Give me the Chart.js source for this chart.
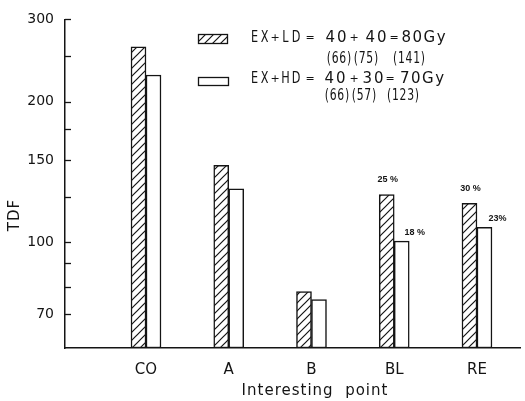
<!DOCTYPE html>
<html><head><meta charset="utf-8">
<script src="https://cdn.jsdelivr.net/npm/chart.js@4"></script>
<style>html,body{margin:0;padding:0;background:#fff}</style>
</head><body>
<canvas id="c" width="525" height="401"></canvas>
<script>
const categories = ['CO', 'A', 'B', 'BL', 'RE'];
const ldValues = [262, 146, 78.3, 126.4, 121];
const hdValues = [228, 130, 75.3, 100.5, 107.6];
const ldPercent = ['', '', '', '25 %', '30 %'];
const hdPercent = ['', '', '', '18 %', '23%'];
const yTickValues = [70, 80, 90, 100, 125, 150, 175, 200, 250, 300];
const yTickLabels = ['70', '', '', '100', '', '150', '', '200', '', '300'];
const xTitle = 'Interesting  point';
const yTitle = 'TDF';

const INK = '#141414';
const FONT = 'DejaVu Sans';

function hatchPattern() {
  const s = 8;
  const c = document.createElement('canvas');
  c.width = s; c.height = s;
  const g = c.getContext('2d');
  g.fillStyle = '#fff'; g.fillRect(0, 0, s, s);
  g.strokeStyle = INK; g.lineWidth = 1.2;
  g.beginPath();
  g.moveTo(-1, s + 1); g.lineTo(s + 1, -1);
  g.moveTo(-1, 1); g.lineTo(1, -1);
  g.moveTo(s - 1, s + 1); g.lineTo(s + 1, s - 1);
  g.stroke();
  return g.createPattern(c, 'repeat');
}
const hatch = hatchPattern();

const deco = {
  id: 'deco',
  afterDraw(chart) {
    const {ctx, chartArea: a, scales: {y}} = chart;
    ctx.save();
    ctx.strokeStyle = INK; ctx.lineWidth = 1.3;
    // inside tick marks
    y.ticks.forEach(t => {
      const py = Math.round(y.getPixelForValue(t.value)) + 0.5;
      ctx.beginPath(); ctx.moveTo(a.left, py); ctx.lineTo(a.left + 6, py); ctx.stroke();
    });
    ctx.fillStyle = INK;
    // percentage labels
    ctx.font = 'bold 9px "Liberation Sans Narrow", "Liberation Sans", sans-serif';
    ctx.textAlign = 'center'; ctx.textBaseline = 'middle';
    const m0 = chart.getDatasetMeta(0), m1 = chart.getDatasetMeta(1);
    categories.forEach((c, i) => {
      if (ldPercent[i]) { const b = m0.data[i]; ctx.fillText(ldPercent[i], b.x + 1, b.y - 15); }
      if (hdPercent[i]) { const b = m1.data[i]; ctx.fillText(hdPercent[i], b.x + 13, b.y - 9); }
    });
    // axis titles
    ctx.font = '15px "' + FONT + '"';
    ctx.letterSpacing = '1px';
    ctx.fillText(xTitle, 315, 391);
    ctx.save();
    ctx.translate(15, 215); ctx.rotate(-Math.PI / 2);
    ctx.fillText(yTitle, 0, 0);
    ctx.restore();
    // legend boxes
    ctx.lineWidth = 1.3;
    ctx.fillStyle = hatch;
    ctx.fillRect(198, 34, 29, 9);
    ctx.strokeRect(198.5, 34.5, 29, 9);
    ctx.fillStyle = '#fff';
    ctx.fillRect(198, 77, 30, 8);
    ctx.strokeRect(198.5, 77.5, 30, 8);
    // legend text
    ctx.fillStyle = INK;
    const put = (t, cx, yy, size, sx, ls) => {
      ctx.save();
      ctx.translate(cx, yy); ctx.scale(sx, 1);
      ctx.font = size + 'px "' + FONT + '"';
      ctx.letterSpacing = ls + 'px';
      ctx.textAlign = 'center'; ctx.textBaseline = 'middle';
      ctx.fillText(t, ls / 2, 0);
      ctx.restore();
    };
    const rows = [
      {y: 38, name: chart.data.datasets[0].label.split(' + ')[1], a: '40', b: '40', tot: '80Gy',
       c: [336, 354, 376, 394, 423.5], py: 59, p: [['(66)', 339], ['(75)', 366], ['(141)', 409]]},
      {y: 79, name: chart.data.datasets[1].label.split(' + ')[1], a: '40', b: '30', tot: '70Gy',
       c: [335, 354, 373, 390, 422], py: 96, p: [['(66)', 337], ['(57)', 364], ['(123)', 403]]}
    ];
    rows.forEach(r => {
      put('E', 254.5, r.y, 15, 0.75, 0); put('X', 264.5, r.y, 15, 0.75, 0);
      put('+', 275, r.y, 11, 1, 0);
      put(r.name[0], 285.5, r.y, 15, 0.75, 0); put(r.name[1], 296, r.y, 15, 0.75, 0);
      put('=', 310, r.y, 11, 1, 0);
      put(r.a, r.c[0], r.y, 15, 1, 2); put('+', r.c[1], r.y, 11, 1, 0);
      put(r.b, r.c[2], r.y, 15, 1, 2); put('=', r.c[3], r.y, 11, 1, 0);
      put(r.tot, r.c[4], r.y, 15, 1, 1.5);
      r.p.forEach(q => put(q[0], q[1], r.py, 15, 0.72, 1));
    });
    ctx.restore();
  }
};

new Chart(document.getElementById('c'), {
  type: 'bar',
  data: {
    datasets: [
      { label: 'EX + LD', data: categories.map((c, i) => ({x: i + 1, y: ldValues[i]})),
        backgroundColor: hatch, borderColor: INK, borderWidth: 1.5, borderSkipped: false },
      { label: 'EX + HD', data: categories.map((c, i) => ({x: i + 1, y: hdValues[i]})),
        backgroundColor: '#fff', borderColor: INK, borderWidth: 1.5, borderSkipped: false }
    ]
  },
  options: {
    responsive: false, animation: false, devicePixelRatio: 1,
    layout: {padding: {top: 16, right: 5, left: 0, bottom: 0}},
    plugins: {legend: {display: false}, tooltip: {enabled: false}},
    datasets: {bar: {barThickness: 15}},
    scales: {
      x: {
        type: 'linear', min: 0.021, max: 5.52, offset: false,
        grid: {display: false, drawTicks: false},
        border: {display: true, color: INK, width: 1.5},
        afterBuildTicks: s => { s.ticks = categories.map((c, i) => ({value: i + 1})); },
        afterFit: s => { s.height = 53; },
        ticks: {callback: v => categories[v - 1] || '', font: {family: FONT, size: 15}, color: INK,
                padding: 13, maxRotation: 0, autoSkip: false}
      },
      y: {
        type: 'logarithmic', min: 59.3, max: 300,
        grid: {display: false, drawTicks: false},
        border: {display: true, color: INK, width: 1.5},
        afterBuildTicks: s => { s.ticks = yTickValues.map(v => ({value: v})); },
        afterFit: s => { s.width = 65; },
        ticks: {callback: v => { const i = yTickValues.indexOf(v); return i >= 0 ? yTickLabels[i] : ''; },
                font: {family: FONT, size: 14}, color: INK, padding: 11, autoSkip: false}
      }
    }
  },
  plugins: [deco]
});
</script>
</body></html>
